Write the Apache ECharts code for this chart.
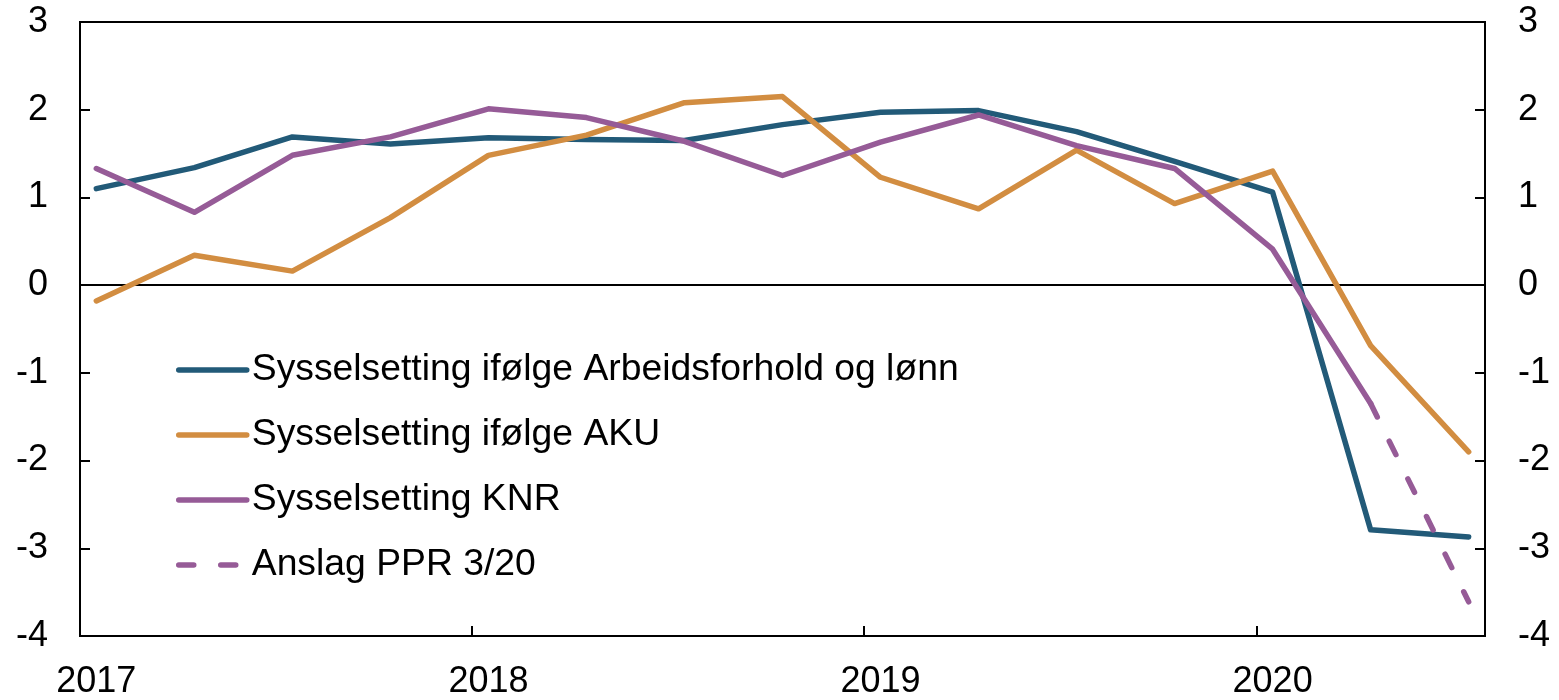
<!DOCTYPE html>
<html>
<head>
<meta charset="utf-8">
<script src="https://cdn.jsdelivr.net/npm/echarts@6/dist/echarts.min.js"></script>
<style>
  html, body { margin: 0; padding: 0; background: #fff; }
  #chart { width: 1559px; height: 700px; }
</style>
</head>
<body>
<div id="chart"></div>
<script>
// Monthly slots Jan 2017 – Jul 2020; quarterly observations sit in Jan/Apr/Jul/Oct.
const months = [];
for (let y = 2017; y <= 2020; y++) {
  for (let m = 1; m <= 12; m++) {
    if (y === 2020 && m > 7) break;
    months.push(y + '-' + String(m).padStart(2, '0'));
  }
}

const quarters = [
  '2017-01', '2017-04', '2017-07', '2017-10',
  '2018-01', '2018-04', '2018-07', '2018-10',
  '2019-01', '2019-04', '2019-07', '2019-10',
  '2020-01', '2020-04', '2020-07'
];

// Sysselsetting ifølge Arbeidsforhold og lønn
const arbeidsforhold = [1.10, 1.34, 1.69, 1.61, 1.68, 1.66, 1.65, 1.83, 1.97, 1.99, 1.75, 1.41, 1.06, -2.79, -2.87];
// Sysselsetting ifølge AKU
const aku = [-0.18, 0.34, 0.16, 0.77, 1.48, 1.71, 2.08, 2.15, 1.23, 0.87, 1.54, 0.93, 1.30, -0.69, -1.90];
// Sysselsetting KNR
const knr = [1.33, 0.83, 1.48, 1.69, 2.01, 1.91, 1.64, 1.25, 1.63, 1.94, 1.59, 1.33, 0.41, -1.35];
// Anslag PPR 3/20
const anslagPeriods = ['2020-04', '2020-07'];
const anslag = [-1.35, -3.61];

const yTicks = [-4, -3, -2, -1, 0, 1, 2, 3];

const names = [
  'Sysselsetting ifølge Arbeidsforhold og lønn',
  'Sysselsetting ifølge AKU',
  'Sysselsetting KNR',
  'Anslag PPR 3/20'
];
const colors = ['#225a78', '#d28d41', '#965b97', '#965b97'];

const pair = (xs, vs) => vs.map((v, i) => [xs[i], v]);

const FONT = '"Liberation Sans", Arial, sans-serif';
const LINE_W = 5.5;

function lineSeries(name, data, color, dashed) {
  return {
    name: name,
    type: 'line',
    data: data,
    symbol: 'none',
    smooth: false,
    color: color,
    lineStyle: {
      color: color,
      width: LINE_W,
      cap: 'round',
      join: 'round',
      type: dashed ? [15, 27] : 'solid'
    },
    emphasis: { disabled: true },
    animation: false
  };
}

// Only the zero line is drawn among the horizontal split lines.
const splitColors = yTicks.map(v => (v === 0 ? '#000' : 'rgba(0,0,0,0)'));

const yAxisBase = {
  type: 'value',
  min: -4,
  max: 3,
  interval: 1,
  axisLine: { show: false },
  axisTick: { show: true, inside: true, length: 10, lineStyle: { color: '#000', width: 2 } },
  axisLabel: { color: '#000', fontSize: 36, fontFamily: FONT, margin: 32 },
};

const chart = echarts.init(document.getElementById('chart'), null, { renderer: 'canvas' });
chart.setOption({
  animation: false,
  backgroundColor: '#fff',
  grid: {
    left: 80, right: 74, top: 22, bottom: 61,
    show: true, borderColor: '#000', borderWidth: 2, backgroundColor: 'transparent',
    containLabel: false
  },
  legend: {
    orient: 'vertical',
    left: 176,
    top: 350,
    padding: 0,
    itemWidth: 68,
    itemHeight: 20,
    itemGap: 25,
    data: names,
    itemStyle: { color: 'rgba(0,0,0,0)', borderColor: 'rgba(0,0,0,0)', borderWidth: 0 },
    lineStyle: { width: LINE_W, cap: 'round' },
    textStyle: { color: '#000', fontSize: 37.3, fontFamily: FONT, lineHeight: 40 },
    selectedMode: false
  },
  xAxis: {
    type: 'category',
    data: months,
    boundaryGap: true,
    axisLine: { show: false, onZero: false },
    axisTick: {
      show: true, inside: true, length: 10,
      interval: (i) => i % 12 === 0,
      lineStyle: { color: '#000', width: 2 }
    },
    axisLabel: {
      color: '#000', fontSize: 36, fontFamily: FONT, margin: 28,
      interval: (i, v) => v.endsWith('-01'),
      formatter: (v) => v.slice(0, 4)
    },
    splitLine: { show: false }
  },
  yAxis: [
    Object.assign({}, yAxisBase, {
      position: 'left',
      splitLine: { show: true, lineStyle: { color: splitColors, width: 2 } }
    }),
    Object.assign({}, yAxisBase, {
      position: 'right',
      axisLabel: Object.assign({}, yAxisBase.axisLabel, { margin: 33 }),
      splitLine: { show: false }
    })
  ],
  series: [
    lineSeries(names[0], pair(quarters, arbeidsforhold), colors[0], false),
    lineSeries(names[1], pair(quarters, aku), colors[1], false),
    lineSeries(names[2], pair(quarters, knr), colors[2], false),
    lineSeries(names[3], pair(anslagPeriods, anslag), colors[3], true)
  ]
});
</script>
</body>
</html>
